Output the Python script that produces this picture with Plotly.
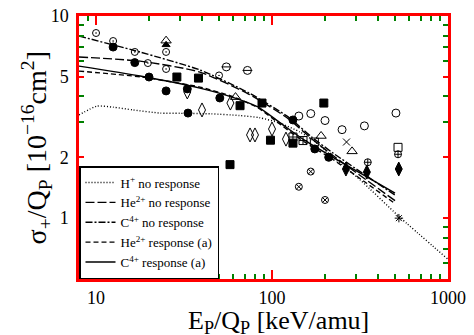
import plotly.graph_objects as go
import numpy as np

# ---- Curves (E_P/Q_P in keV/amu, sigma/Q_P in 1e-16 cm^2) ----
h_x = [8.0, 10.1, 12.5, 16.2, 23.1, 30, 45, 65, 85, 111, 144, 180, 222, 316, 526, 1000]
h_y = [3.24, 3.58, 3.54, 3.43, 3.31, 3.30, 3.28, 3.22, 3.14, 2.95, 2.67, 2.35, 2.0, 1.55, 1.02, 0.626]

he_nr_x = [8.0, 17.8, 38.9, 74, 124, 168, 222, 500]
he_nr_y = [6.27, 5.98, 5.28, 4.10, 3.10, 2.47, 2.04, 1.22]

c_nr_x = [8.0, 17.8, 38.9, 74, 124, 168, 222, 500]
c_nr_y = [7.96, 6.63, 5.41, 4.16, 3.16, 2.52, 2.10, 1.30]

he_r_x = [8.0, 17.8, 38.9, 59.4, 83, 112, 153, 222, 500]
he_r_y = [5.34, 5.0, 4.45, 4.0, 3.52, 2.90, 2.38, 1.95, 1.18]

c_r_x = [8.0, 17.8, 38.9, 59.4, 83, 112, 153, 222, 500]
c_r_y = [5.65, 5.05, 4.40, 3.97, 3.55, 2.95, 2.43, 2.0, 1.33]

# ---- Experimental points ----
cdot_x = [10.0, 12.5, 16.6, 19.7, 25, 25, 50]
cdot_y = [8.24, 7.52, 6.64, 5.85, 6.64, 5.47, 5.08]

fcirc_x = [12.5, 16.6, 20, 25, 33, 33.3, 50.5, 131.5, 175, 210]
fcirc_y = [7.02, 5.88, 4.99, 4.26, 4.36, 3.31, 3.93, 3.06, 2.20, 2.0]

cminus_x = [55, 72.5]
cminus_y = [5.6, 5.38]

fsq_x = [28.8, 38.2, 65.8, 87.7, 197, 98, 131.5, 57.7]
fsq_y = [4.99, 4.93, 3.60, 3.71, 3.71, 2.43, 2.35, 1.84]

odia_x = [33, 40, 58, 100, 75, 80, 120]
odia_y = [4.21, 3.43, 3.71, 2.76, 2.58, 2.58, 2.46]

otri_x = [25, 62, 190, 285]
otri_y = [7.55, 3.97, 2.55, 2.14]

ftri_x = [25]
ftri_y = [7.2]

sqplus_x = [131.5, 150]
sqplus_y = [2.52, 2.42]

osq_x = [174, 520]
osq_y = [2.38, 2.24]

ocirc_x = [142, 166, 200, 250, 335, 506]
ocirc_y = [3.20, 3.29, 3.04, 2.74, 2.86, 3.31]

xmark_x = [265]
xmark_y = [2.38]

cplus_x = [350, 520]
cplus_y = [1.89, 2.07]

fdia_x = [263, 346, 525]
fdia_y = [1.75, 1.69, 1.75]

cx_x = [166, 142, 200]
cx_y = [1.70, 1.43, 1.23]

star_x = [526]
star_y = [1.0]

x_ticks = [10, 100, 1000]
y_ticks = [1, 2, 5, 10]
x_minor = [9] + [d * m for d in (10, 100) for m in range(2, 10)]
y_minor = [0.6, 0.7, 0.8, 0.9, 3, 4, 6, 7, 8, 9]

FONT = "Liberation Serif"

fig = go.Figure()

def curve(x, y, name, dash):
    fig.add_trace(go.Scatter(x=x, y=y, mode="lines", name=name,
                             line=dict(color="black", width=1.4, dash=dash, shape="spline", smoothing=0.6)))

curve(h_x, h_y, "H<sup>+</sup> no response", "1px,2px")
curve(he_nr_x, he_nr_y, "He<sup>2+</sup> no response", "9px,3px")
curve(c_nr_x, c_nr_y, "C<sup>4+</sup> no response", "7px,2px,2px,2px")
curve(he_r_x, he_r_y, "He<sup>2+</sup> response (a)", "5px,3px")
curve(c_r_x, c_r_y, "C<sup>4+</sup> response (a)", "solid")

def pts(x, y, symbol, size=7, lw=1):
    fig.add_trace(go.Scatter(x=x, y=y, mode="markers", showlegend=False,
                             marker=dict(symbol=symbol, size=size, color="black",
                                         line=dict(color="black", width=lw))))

pts(cdot_x, cdot_y, "circle-open-dot", 7)
pts(fcirc_x, fcirc_y, "circle", 8)
pts(cminus_x, cminus_y, "circle-open", 8)
pts(cminus_x, cminus_y, "line-ew-open", 7)
pts(fsq_x, fsq_y, "square", 8)
pts(odia_x, odia_y, "diamond-tall-open", 10)
pts(otri_x, otri_y, "triangle-up-open", 9)
pts(ftri_x, ftri_y, "triangle-up", 7)
pts(sqplus_x, sqplus_y, "square-cross-open", 8)
pts(osq_x, osq_y, "square-open", 8)
pts(ocirc_x, ocirc_y, "circle-open", 8)
pts(xmark_x, xmark_y, "x-thin-open", 7)
pts(cplus_x, cplus_y, "circle-cross-open", 7)
pts(fdia_x, fdia_y, "diamond-tall", 10)
pts(cx_x, cx_y, "circle-x-open", 7)
pts(star_x, star_y, "asterisk-open", 7)

fig.update_layout(
    template="none",
    width=474, height=335,
    margin=dict(l=79, r=26, t=16, b=56, autoexpand=False),
    plot_bgcolor="white", paper_bgcolor="white",
    font=dict(family=FONT, color="black", size=18),
    showlegend=True,
    legend=dict(x=0, y=0, xanchor="left", yanchor="bottom",
                bgcolor="white", bordercolor="black", borderwidth=1.5,
                font=dict(family=FONT, size=13), tracegroupgap=0),
    xaxis=dict(type="log", range=[np.log10(8.0), 3], automargin=False,
               tickmode="array", tickvals=x_ticks, ticktext=[str(v) for v in x_ticks],
               ticks="inside", ticklen=9, tickwidth=2, tickcolor="red",
               minor=dict(tickvals=x_minor, ticks="inside", ticklen=5, tickwidth=2, tickcolor="green"),
               showline=True, linewidth=3, linecolor="red", mirror="allticks",
               showgrid=False, zeroline=False,
               tickfont=dict(size=18, family=FONT)),
    yaxis=dict(type="log", range=[np.log10(0.5), 1], automargin=False,
               tickmode="array", tickvals=y_ticks, ticktext=[str(v) + "\u2009" for v in y_ticks],
               ticks="inside", ticklen=5, tickwidth=2, tickcolor="red",
               minor=dict(tickvals=y_minor, ticks="inside", ticklen=5, tickwidth=2, tickcolor="green"),
               showline=True, linewidth=3, linecolor="red", mirror="allticks",
               showgrid=False, zeroline=False,
               tickfont=dict(size=18, family=FONT)),
    annotations=[
        dict(text="E<sub>P</sub>/Q<sub>P</sub> [keV/amu]", xref="paper", yref="paper",
             x=0.542, y=-0.165, xanchor="center", yanchor="middle", showarrow=False,
             font=dict(size=26, family=FONT)),
        dict(text="σ<sub>+</sub>/Q<sub>P</sub> [10<sup>−16</sup>cm<sup>2</sup>]", xref="paper", yref="paper",
             x=-0.114, y=0.5, xanchor="center", yanchor="middle", showarrow=False, textangle=-90,
             font=dict(size=28, family=FONT)),
    ],
)

fig.write_html("out.html", config={"displayModeBar": False},
               post_script="document.body.style.margin='0';document.body.style.overflow='hidden';")
